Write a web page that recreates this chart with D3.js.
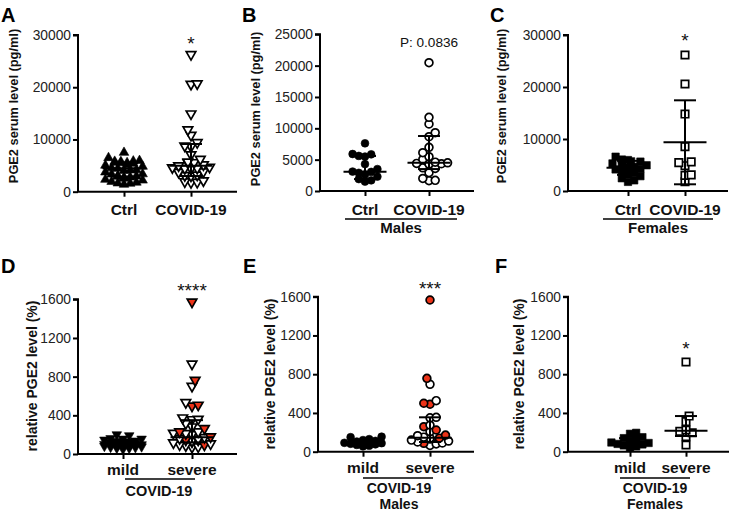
<!DOCTYPE html>
<html><head><meta charset="utf-8">
<script src="https://cdn.jsdelivr.net/npm/d3@7"></script>
<style>body{margin:0;background:#fff}text{font-family:"Liberation Sans",Arial,sans-serif}</style>
</head><body><svg id="c" width="732" height="512"></svg>
<script>
// ---------- DATA ----------
const catsTop = ["Ctrl", "COVID-19"];
const catsBottom = ["mild", "severe"];
const ticksA = [0, 10000, 20000, 30000];
const ticksB = [0, 5000, 10000, 15000, 20000, 25000];
const ticksC = [0, 10000, 20000, 30000];
const ticksRel = [0, 400, 800, 1200, 1600];

// serum PGE2 (pg/ml)
const maleCtrl = [7610, 5900, 5850, 5600, 5500, 4300, 3500, 3100, 3050, 2900, 2650, 2300, 1900, 1700, 1500];
const maleCovid = [20470, 11760, 10690, 9300, 8660, 6970, 6110, 5470, 5050, 4600, 4500, 4400, 4350, 4300, 3700, 3600, 2920, 2000, 1700, 1650];
const femaleCtrl = [6600, 6050, 5950, 5700, 5650, 5300, 5150, 4950, 4650, 4550, 4250, 4150, 3850, 3450, 3150, 2850, 2450, 2050, 1750];
const femaleCovid = [26150, 20580, 14800, 8520, 5600, 5450, 4870, 3100, 3000, 1790];
const allCtrl = maleCtrl.concat(femaleCtrl);
const allCovid = maleCovid.concat(femaleCovid);

// relative PGE2 level (%)
const maleMild = [155, 150, 130, 120, 112, 105, 100, 98, 92, 88, 82, 76, 70, 62, 55];
const maleSevereOpen = [696, 527, 355, 350, 275, 207, 165, 150, 140, 130, 120, 110, 100, 90, 80, 65];
const maleSevereRed = [1566, 757, 500, 490, 258, 224, 172, 140, 87];
const femaleMild = [195, 185, 150, 140, 125, 110, 100, 95, 90, 80, 75, 65, 55, 45];
const femaleSevere = [926, 368, 310, 224, 210, 195, 155, 69];
const allMild = maleMild.concat(femaleMild);
const allSevereOpen = maleSevereOpen.concat(femaleSevere);
const allSevereRed = maleSevereRed;

// summary lines: [centre, lower, upper]  (median/IQR; C = mean/SD)
const statsA = [[4480, 2900, 5600], [4980, 3000, 9130]];
const statsB = [[3080, 1900, 5580], [4510, 3500, 8770]];
const statsC = [[4480, 3100, 5800], [9370, 1290, 17440]];
const statsD = [[110, 80, 140], [172, 120, 350]];
const statsE = [[100, 75, 120], [145, 100, 355]];
const statsF = [[93, 65, 140], [217, 162, 368]];

// ---------- LAYOUT ----------
const RED = "#ec3318";
const tag = (arr, kind) => arr.map(v => ({ v, kind }));
const panels = [
  { letter: "A", lx: 1, ly: 22, ax: 78, y0: 191.7, yTop: 35, xEnd: 237, cx: [124, 191], max: 30000, ticks: ticksA,
    title: "PGE2 serum level (pg/ml)", tx: 15, ty: 106, ts: 12.8, cats: catsTop, shape: ["triUp", "triDown"],
    groups: [tag(allCtrl, "filled"), tag(allCovid, "open")], stats: statsA, note: ["*", 191, 50, 19],
    labY: 215 },
  { letter: "B", lx: 242, ly: 22, ax: 320, y0: 191, yTop: 34.3, xEnd: 474, cx: [365, 429], max: 25000, ticks: ticksB,
    title: "PGE2 serum level (pg/ml)", tx: 257, ty: 109, ts: 12.8, cats: catsTop, shape: ["circle", "circle"],
    groups: [tag(maleCtrl, "filled"), tag(maleCovid, "open")], stats: statsB, note: ["P: 0.0836", 429, 47, 13.6],
    labY: 215, bracket: [345, 457, 219], sub: [["Males", 401, 233, 15]] },
  { letter: "C", lx: 490, ly: 22, ax: 568, y0: 191, yTop: 35, xEnd: 728, cx: [628, 685], max: 30000, ticks: ticksC,
    title: "PGE2 serum level (pg/ml)", tx: 503, ty: 106, ts: 12.8, cats: catsTop, shape: ["square", "square"],
    groups: [tag(femaleCtrl, "filled"), tag(femaleCovid, "open")], stats: statsC, note: ["*", 685, 47, 19],
    labY: 215, bracket: [603, 713, 219], sub: [["Females", 658, 233, 15]] },
  { letter: "D", lx: 1, ly: 273, ax: 78, y0: 454, yTop: 299.3, xEnd: 237, cx: [123, 192], max: 1600, ticks: ticksRel,
    title: "relative PGE2 level (%)", tx: 33, ty: 376, ts: 14, cats: catsBottom, shape: ["triDown", "triDown"],
    groups: [tag(allMild, "filled"), tag(allSevereOpen, "open").concat(tag(allSevereRed, "red"))], stats: statsD,
    note: ["****", 192, 297, 19], labY: 475, bracket: [125, 195, 479], sub: [["COVID-19", 159, 496, 14.5]] },
  { letter: "E", lx: 243, ly: 273, ax: 318, y0: 451.7, yTop: 296.7, xEnd: 474, cx: [363, 430], max: 1600, ticks: ticksRel,
    title: "relative PGE2 level (%)", tx: 271, ty: 374, ts: 14, cats: catsBottom, shape: ["circle", "circle"],
    groups: [tag(maleMild, "filled"), tag(maleSevereOpen, "open").concat(tag(maleSevereRed, "red"))], stats: statsE,
    note: ["***", 430, 295, 19], labY: 473, bracket: [363, 433, 478],
    sub: [["COVID-19", 399, 492.5, 14], ["Males", 399, 509, 14]] },
  { letter: "F", lx: 495, ly: 273, ax: 568, y0: 451.7, yTop: 296.7, xEnd: 729, cx: [630, 686], max: 1600, ticks: ticksRel,
    title: "relative PGE2 level (%)", tx: 520, ty: 374, ts: 14, cats: catsBottom, shape: ["square", "square"],
    groups: [tag(femaleMild, "filled"), tag(femaleSevere, "open")], stats: statsF,
    note: ["*", 686, 355, 19], labY: 473, bracket: [620, 690, 478],
    sub: [["COVID-19", 655, 492.5, 14], ["Females", 655, 509, 14]] }
];

// ---------- DRAW ----------
const svg = d3.select("#c");
const LABEL_FS = 15.5;

function markerPath(shape) {
  if (shape === "triUp") return "M0,-5 L4.8,3.4 L-4.8,3.4 Z";
  if (shape === "triDown") return "M0,5 L4.8,-3.4 L-4.8,-3.4 Z";
  if (shape === "square") return "M-3.7,-3.7 H3.7 V3.7 H-3.7 Z";
  return d3.arc()({ innerRadius: 0, outerRadius: 3.9, startAngle: 0, endAngle: 2 * Math.PI });
}

function swarm(items, y, cx, d, maxW) {
  const pts = items.map(it => ({ ...it, py: y(it.v) })).sort((a, b) => a.v - b.v);
  const placed = [];
  let flip = 1;
  for (const p of pts) {
    const cands = [0];
    for (let k = 1; k * d * 0.5 <= maxW; k++) { cands.push(flip * k * d * 0.5, -flip * k * d * 0.5); }
    let best = 0, bestC = Infinity;
    for (const off of cands) {
      let c = 0;
      for (const q of placed) {
        const dx = q.px - (cx + off), dy = q.py - p.py;
        if (dx * dx + dy * dy < d * d) c++;
      }
      if (c < bestC) { bestC = c; best = off; }
      if (c === 0) break;
    }
    if (best !== 0) flip = -flip;
    p.px = cx + best;
    placed.push(p);
  }
  return placed;
}

panels.forEach(P => {
  const g = svg.append("g");
  const y = d3.scaleLinear().domain([0, P.max]).range([P.y0, P.yTop]);
  const x = d3.scalePoint().domain(P.cats).range(P.cx);

  g.append("text").attr("x", P.lx).attr("y", P.ly).attr("font-size", 20).attr("font-weight", "bold").text(P.letter);

  const yAxis = d3.axisLeft(y).tickValues(P.ticks).tickSize(5).tickPadding(2).tickFormat(d3.format("d"));
  const ya = g.append("g").attr("transform", `translate(${P.ax},0)`).call(yAxis);
  ya.select(".domain").attr("d", `M-5,${P.yTop}H0V${P.y0}`).attr("stroke-width", 2);
  ya.selectAll(".tick line").attr("stroke-width", 2);
  ya.selectAll(".tick text").attr("font-size", 13.8).attr("fill", "#222").attr("font-family", "Liberation Sans, Arial, sans-serif");

  const xAxis = d3.axisBottom(x).tickSize(5).tickFormat("");
  const xa = g.append("g").attr("transform", `translate(0,${P.y0})`).call(xAxis);
  xa.select(".domain").attr("d", `M${P.ax - 1},0H${P.xEnd}`).attr("stroke-width", 2);
  xa.selectAll(".tick line").attr("stroke-width", 2);

  g.selectAll(".cat").data(P.cats).join("text")
    .attr("x", d => x(d)).attr("y", P.labY).attr("text-anchor", "middle")
    .attr("font-size", LABEL_FS).attr("font-weight", "bold").attr("fill", "#111").text(d => d);

  g.append("text").attr("transform", `translate(${P.tx},${P.ty}) rotate(-90)`)
    .attr("text-anchor", "middle").attr("dominant-baseline", "middle")
    .attr("font-size", P.ts).attr("font-weight", "bold").attr("fill", "#111").text(P.title);

  P.groups.forEach((items, gi) => {
    const cx = x(P.cats[gi]);
    const pts = swarm(items, y, cx, 6.2, 21);
    g.append("g").selectAll("path").data(pts).join("path")
      .attr("d", markerPath(P.shape[gi]))
      .attr("transform", d => `translate(${d.px},${d.py})`)
      .attr("fill", d => d.kind === "filled" ? "#000" : d.kind === "red" ? RED : "#fff")
      .attr("stroke", "#000").attr("stroke-width", d => d.kind === "filled" ? 0.6 : 1.7);
  });

  P.stats.forEach((s, gi) => {
    const cx = x(P.cats[gi]);
    const sg = g.append("g").attr("stroke", "#000").attr("stroke-width", 2);
    sg.append("line").attr("x1", cx).attr("x2", cx).attr("y1", y(s[1])).attr("y2", y(s[2]));
    sg.append("line").attr("x1", cx - 21.5).attr("x2", cx + 21.5).attr("y1", y(s[0])).attr("y2", y(s[0]));
    [s[1], s[2]].forEach(v => sg.append("line").attr("x1", cx - 11).attr("x2", cx + 11).attr("y1", y(v)).attr("y2", y(v)));
  });

  g.append("text").attr("x", P.note[1]).attr("y", P.note[2]).attr("text-anchor", "middle")
    .attr("font-size", P.note[3]).attr("fill", "#111").text(P.note[0]);

  if (P.bracket) {
    g.append("line").attr("x1", P.bracket[0]).attr("x2", P.bracket[1]).attr("y1", P.bracket[2]).attr("y2", P.bracket[2])
      .attr("stroke", "#000").attr("stroke-width", 1.3);
  }
  (P.sub || []).forEach(s => g.append("text").attr("x", s[1]).attr("y", s[2]).attr("text-anchor", "middle")
    .attr("font-size", s[3]).attr("font-weight", "bold").attr("fill", "#111").text(s[0]));
});
</script></body></html>
